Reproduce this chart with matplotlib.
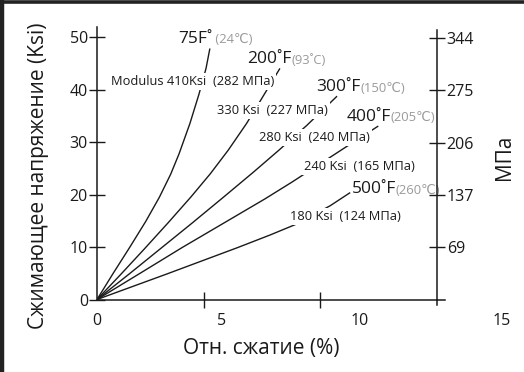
import matplotlib
matplotlib.use("Agg")
import matplotlib.pyplot as plt
from matplotlib.lines import Line2D

plt.rcParams['font.family'] = ['Open Sans', 'DejaVu Sans']

# ---- data (strain %, stress ksi) ----
curve_75F_x = [0, 0.70, 1.45, 2.15, 2.75, 3.25, 3.62, 4.10, 4.50, 4.81, 4.98]
curve_75F_y = [0, 4.9, 10.0, 14.9, 19.5, 23.9, 27.8, 33.6, 39.2, 44.1, 47.9]
curve_200F_x = [0, 1.05, 2.10, 3.15, 4.15, 5.00, 5.79, 6.60, 7.19, 8.07]
curve_200F_y = [0, 4.8, 9.7, 14.7, 19.6, 24.0, 28.5, 33.6, 37.8, 44.1]
curve_300F_x = [0, 1.40, 2.80, 4.20, 5.60, 6.90, 8.00, 9.25, 10.59]
curve_300F_y = [0, 4.8, 9.7, 14.6, 19.6, 24.3, 28.4, 33.2, 38.8]
curve_400F_x = [0, 1.90, 3.75, 5.60, 7.41, 8.60, 9.74, 10.91, 12.41]
curve_400F_y = [0, 5.0, 9.9, 14.6, 19.2, 22.4, 25.6, 28.9, 33.1]
curve_500F_x = [0, 3.10, 6.20, 7.63, 8.75, 10.29, 11.17]
curve_500F_y = [0, 4.9, 9.9, 12.3, 14.3, 17.9, 20.4]

temp_labels = ["75F˚", "200˚F", "300˚F", "400˚F", "500˚F"]
temp_c_labels = [" (24℃)", "(93˚C)", "(150℃)", "(205℃)", "(260℃)"]
modulus_labels = ["Modulus 410Ksi  (282 МПа)", "330 Ksi  (227 МПа)",
                  "280 Ksi  (240 МПа)", "240 Ksi  (165 МПа)", "180 Ksi  (124 МПа)"]

left_ticks = [0, 10, 20, 30, 40, 50]
right_ticks_mpa = [69, 137, 206, 275, 344]
x_tick_labels = ["0", "5", "10", "15"]

# ---- layout ----
W, H = 524, 372
fig = plt.figure(figsize=(W / 100, H / 100), dpi=100)
fig.patch.set_facecolor('white')

ax_left_px, ax_right_px = 97, 445
ax_bot_px, ax_top_px = 299.5, 27
ax = fig.add_axes([ax_left_px / W, (H - ax_bot_px) / H,
                   (ax_right_px - ax_left_px) / W, (ax_bot_px - ax_top_px) / H])
XMAX_AXIS = 15.0
xmax = XMAX_AXIS * (ax_right_px - ax_left_px) / 340.0
YMAX = 52.0
ax.set_xlim(0, xmax)
ax.set_ylim(0, YMAX)

lc = '#1a1a1a'
lw = 1.0
for xs, ys in [(curve_75F_x, curve_75F_y), (curve_200F_x, curve_200F_y),
               (curve_300F_x, curve_300F_y), (curve_400F_x, curve_400F_y),
               (curve_500F_x, curve_500F_y)]:
    ax.plot(xs, ys, color=lc, lw=lw, solid_capstyle='butt',
            solid_joinstyle='round', zorder=2)

for s in ['top', 'right']:
    ax.spines[s].set_visible(False)
for s in ['left', 'bottom']:
    ax.spines[s].set_linewidth(1.1)
    ax.spines[s].set_color(lc)

ax.set_yticks(left_ticks)
ax.set_yticklabels([str(t) for t in left_ticks])
ax.tick_params(axis='y', direction='inout', length=11, width=1.0, pad=1,
               labelsize=11.5, colors=lc)
ax.set_xticks([4.72, 9.84])
ax.set_xticklabels([])
ax.tick_params(axis='x', direction='inout', length=12, width=1.0, colors=lc)

x_label_pos = [0, 5.50, 11.60, 17.85]
for pos, lab in zip(x_label_pos, x_tick_labels):
    ax.text(pos, -4.1, lab, ha='center', va='center', fontsize=11.5,
            color=lc, clip_on=False)

ax.set_ylabel("Сжимающее напряжение (Ksi)", fontsize=15, color=lc)
ax.yaxis.set_label_coords(-0.137, 0.455)
ax.set_xlabel("Отн. сжатие (%)", fontsize=15, color=lc)
ax.xaxis.set_label_coords(0.473, -0.14)

# right MPa axis
KSI_TO_MPA = 6.895
ax2 = ax.twinx()
ax2.set_ylim(0, YMAX * KSI_TO_MPA)
for s in ['top', 'left', 'bottom']:
    ax2.spines[s].set_visible(False)
ax2.spines['right'].set_position(('data', XMAX_AXIS))
ax2.spines['right'].set_linewidth(1.1)
ax2.spines['right'].set_color(lc)
ax2.spines['right'].set_bounds(0, 51.4 * KSI_TO_MPA)
ax2.set_yticks(right_ticks_mpa)
ax2.set_yticklabels([str(t) for t in right_ticks_mpa])
ax2.tick_params(axis='y', direction='inout', length=12, width=1.0, pad=1,
                labelsize=11.5, colors=lc)
ax2.add_line(Line2D([XMAX_AXIS, XMAX_AXIS], [0, -1.1 * KSI_TO_MPA], color=lc,
                    lw=1.1, clip_on=False))
fig.text(505 / W, 1 - 157 / H, "МПа", rotation=90, ha='center', va='center',
         fontsize=15, color=lc)

# temperature labels
temp_pos = [(3.57, 49.7), (6.62, 45.85), (9.66, 40.5), (11.01, 34.8), (11.23, 21.0)]
for (tx, ty), tl, cl in zip(temp_pos, temp_labels, temp_c_labels):
    t = ax.text(tx, ty, tl, ha='left', va='center', fontsize=12.5, color=lc,
                zorder=5)
    ax.annotate(cl, xy=(1.0, 0.45), xycoords=t, ha='left', va='center',
                fontsize=9.4, color='#9a9a9a', zorder=5)

mod_pos = [(0.62, 41.66), (5.28, 36.13), (7.16, 30.9), (9.14, 25.45), (8.53, 15.92)]
for (mx, my), ml in zip(mod_pos, modulus_labels):
    ax.text(mx, my, ml, ha='left', va='center', fontsize=9.3, color=lc,
            zorder=5, bbox=dict(facecolor='white', edgecolor='none', pad=1.5))

# frame (left & top)
fig.add_artist(Line2D([2 / W, 2 / W], [0, 1], color='#222222', lw=3.2,
                      transform=fig.transFigure))
fig.add_artist(Line2D([0, 1], [1 - 1.5 / H, 1 - 1.5 / H], color='#222222', lw=2.6,
                      transform=fig.transFigure))

fig.savefig("out.png", dpi=100, facecolor='white')
